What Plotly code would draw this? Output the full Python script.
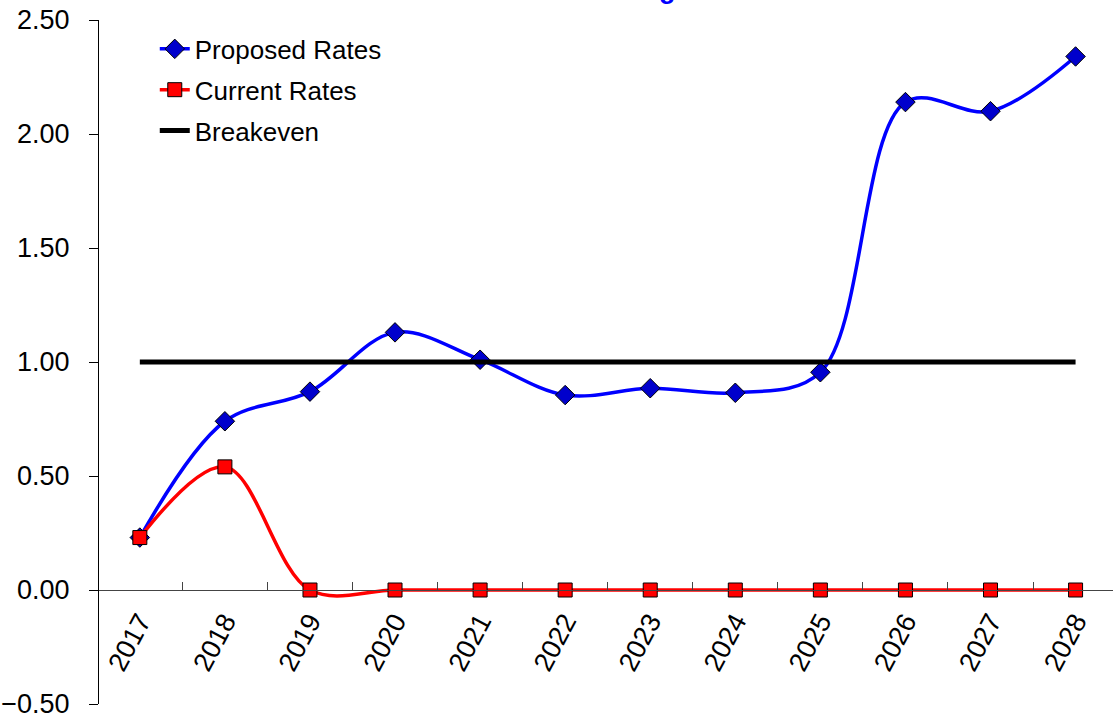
import plotly.graph_objects as go

years = ["2017", "2018", "2019", "2020", "2021", "2022", "2023", "2024", "2025", "2026", "2027", "2028"]
proposed = [0.23, 0.74, 0.87, 1.13, 1.01, 0.855, 0.885, 0.865, 0.955, 2.14, 2.10, 2.34]
current = [0.23, 0.54, 0.0, 0.0, 0.0, 0.0, 0.0, 0.0, 0.0, 0.0, 0.0, 0.0]
breakeven = [1.0] * 12
y_ticks = [-0.5, 0.0, 0.5, 1.0, 1.5, 2.0, 2.5]

FONT = "Arial, Liberation Sans, sans-serif"

fig = go.Figure()
fig.add_trace(go.Scatter(
    x=years, y=proposed, name="Proposed Rates", mode="lines+markers", legendgroup="p",
    line=dict(color="#0000FF", width=3.5, shape="spline", smoothing=1),
    marker=dict(symbol="diamond", size=15, color="#0000CC", line=dict(color="black", width=1)),
))
fig.add_trace(go.Scatter(
    x=years, y=current, name="Current Rates", mode="lines+markers", legendgroup="c",
    line=dict(color="#FF0000", width=3.5, shape="spline", smoothing=1),
    marker=dict(symbol="square", size=14, color="#FF0000", line=dict(color="black", width=1)),
))
fig.add_trace(go.Scatter(
    x=years, y=breakeven, name="Breakeven", mode="lines", legendgroup="b",
    line=dict(color="black", width=5),
))

fig.update_layout(
    width=1113, height=719,
    margin=dict(l=99, r=0, t=20, b=15, autoexpand=False),
    plot_bgcolor="white", paper_bgcolor="white",
    font=dict(family=FONT, size=27, color="black"),
    showlegend=True,
    legend=dict(x=0.055, y=0.992, xanchor="left", yanchor="top",
                bgcolor="rgba(0,0,0,0)", font=dict(size=26, family=FONT),
                itemwidth=30, tracegroupgap=4),
    xaxis=dict(
        type="category", range=[-0.48, 11.44], anchor="free", position=1/6,
        showgrid=False, showline=True, linecolor="#444444", linewidth=1,
        ticks="inside", ticklen=8, tickcolor="#444444", tickson="boundaries",
        tickangle=-62, tickfont=dict(size=27, family=FONT), zeroline=False,
        automargin=False, ticklabelstandoff=4,
    ),
    yaxis=dict(
        range=[-0.5, 2.5], tickvals=y_ticks, tickformat=".2f",
        showgrid=False, showline=True, linecolor="black", linewidth=1,
        ticks="outside", ticklen=9, tickcolor="black", zeroline=False,
        tickfont=dict(size=27, family=FONT), automargin=False,
        ticklabelstandoff=14, ticklabeloverflow="allow",
    ),
    annotations=[dict(
        text="<b>Annual Funding</b>", xref="paper", yref="paper",
        x=0.57, y=1.0205, xanchor="right", yanchor="bottom", showarrow=False,
        font=dict(size=27, color="#0000FF", family=FONT),
    )],
)

fig.write_html("out.html", config={"displayModeBar": False},
               post_script="document.body.style.margin='0';document.body.style.overflow='hidden';")
